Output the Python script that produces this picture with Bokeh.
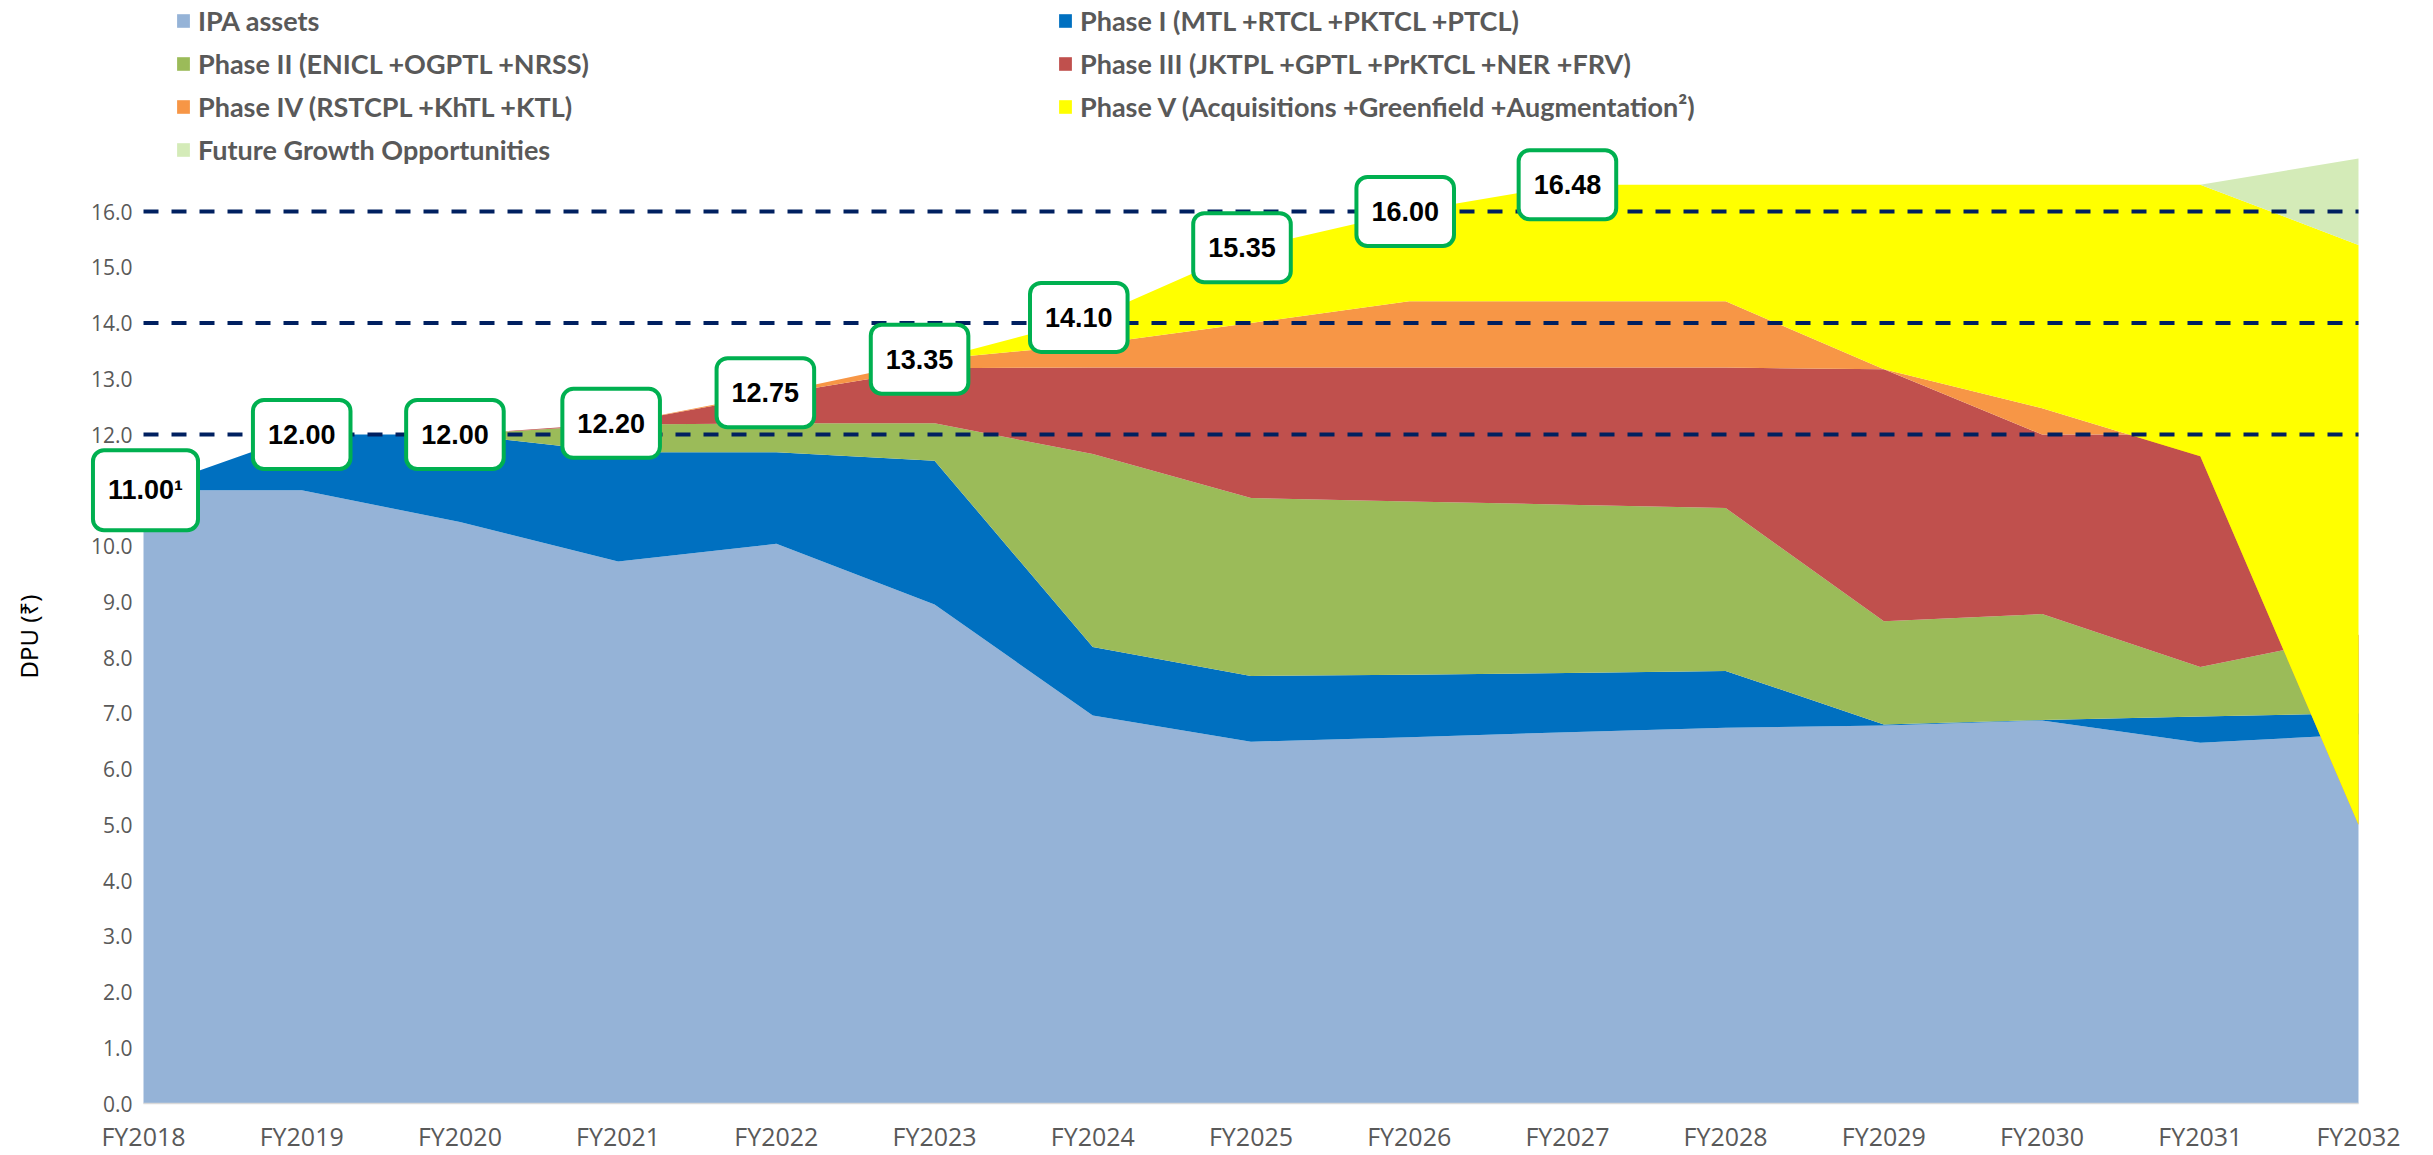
import math
import numpy as np
from bokeh.plotting import figure
from bokeh.models import Range1d, FixedTicker, NumeralTickFormatter, Legend, LegendItem, Label
from bokeh.embed import file_html
from bokeh.resources import INLINE

# ---------------- data ----------------
years = ["FY2018", "FY2019", "FY2020", "FY2021", "FY2022", "FY2023", "FY2024", "FY2025",
         "FY2026", "FY2027", "FY2028", "FY2029", "FY2030", "FY2031", "FY2032"]

ipa_assets = [11.00, 11.00, 10.43, 9.72, 10.04, 8.95, 6.96, 6.49, 6.57, 6.66, 6.74, 6.78, 6.87, 6.47, 6.62]
phase_1 = [0.00, 1.00, 1.57, 1.96, 1.64, 2.58, 1.23, 1.18, 1.12, 1.06, 1.02, 0.02, 0.01, 0.47, 0.38]
phase_2 = [0.00, 0.00, 0.00, 0.50, 0.52, 0.67, 3.46, 3.19, 3.11, 3.02, 2.92, 1.85, 1.90, 0.89, 1.40]
phase_3 = [0.00, 0.00, 0.00, 0.02, 0.52, 0.99, 1.55, 2.34, 2.40, 2.46, 2.52, 4.52, 3.22, 4.17, 0.00]
phase_4 = [0.00, 0.00, 0.00, 0.00, 0.03, 0.16, 0.42, 0.80, 1.19, 1.19, 1.19, 0.00, 0.47, -0.39, -3.40]
phase_5 = [0.00, 0.00, 0.00, 0.00, 0.00, 0.00, 0.48, 1.35, 1.61, 2.09, 2.09, 3.31, 4.01, 4.87, 10.40]
future_growth = [0.00, 0.00, 0.00, 0.00, 0.00, 0.00, 0.00, 0.00, 0.00, 0.00, 0.00, 0.00, 0.00, 0.00, 1.55]

dpu_label_texts = ["11.00\u00b9", "12.00", "12.00", "12.20", "12.75", "13.35", "14.10", "15.35", "16.00", "16.48"]
guide_levels = [12.0, 14.0, 16.0]
y_ticks = [0, 1, 2, 3, 4, 5, 6, 7, 8, 9, 10, 11, 12, 13, 14, 15, 16]

series_names = ["IPA assets",
                "Phase I (MTL +RTCL +PKTCL +PTCL)",
                "Phase II (ENICL +OGPTL +NRSS)",
                "Phase III (JKTPL +GPTL +PrKTCL +NER +FRV)",
                "Phase IV (RSTCPL +KhTL +KTL)",
                "Phase V (Acquisitions +Greenfield +Augmentation\u00b2)",
                "Future Growth Opportunities"]

# ---------------- layout / styles ----------------
colors = ["#95B3D7", "#0070C0", "#9BBB59", "#C0504D", "#F79646", "#FFFF00", "#D4EBB8"]
label_dx = [2, 0, -5, -7, -11, -15, -14, -9, -4, 0]
TICK_FONT = "Open Sans"

W, H = 2428, 1152
X_LEFT_PX, X_RIGHT_PX = 143, 2358      # pixel positions of first / last year
Y0_PX, Y16_PX = 1103, 211              # pixel positions of 0.0 and 16.0
n = len(years)
px_per_x = (X_RIGHT_PX - X_LEFT_PX) / (n - 1)
px_per_y = (Y0_PX - Y16_PX) / 16.0
x_start = -X_LEFT_PX / px_per_x
x_end = (n - 1) + (W - X_RIGHT_PX) / px_per_x
y_end = Y0_PX / px_per_y
y_start = -(H - Y0_PX) / px_per_y

x = np.arange(n)

p = figure(width=W, height=H, output_backend="svg", toolbar_location=None,
           x_range=Range1d(x_start, x_end), y_range=Range1d(y_start, y_end),
           min_border=0)
p.outline_line_color = None
p.xgrid.visible = False
p.ygrid.visible = False
p.background_fill_color = "white"
p.border_fill_color = "white"

values = [ipa_assets, phase_1, phase_2, phase_3, phase_4, phase_5, future_growth]
base = np.zeros(n)
renderers = []
for vals, col in zip(values, colors):
    top = base + np.array(vals)
    r = p.varea(x=x, y1=base, y2=top, fill_color=col, fill_alpha=1.0)
    renderers.append(r)
    base = top
total = base - np.array(future_growth)

for lvl in guide_levels:
    p.line(x=[x[0], x[-1]], y=[lvl, lvl], line_color="#002060", line_width=4, line_dash="15 13")

for i, t in enumerate(dpu_label_texts):
    p.add_layout(Label(x=int(x[i]), y=float(total[i]), text=t, text_align="center", text_baseline="middle",
                       text_font="Liberation Sans", text_font_style="bold", text_font_size="27px",
                       text_color="black", background_fill_color="white", background_fill_alpha=1.0,
                       border_line_color="#00B050", border_line_width=4, border_radius=11,
                       padding=dict(left=15, right=15, top=25, bottom=25), x_offset=label_dx[i]))

# axes (fixed inside the frame)
p.xaxis.fixed_location = 0
p.xaxis.bounds = (0, n - 1)
p.xaxis.ticker = FixedTicker(ticks=list(x))
p.xaxis.major_label_overrides = {int(i): years[i] for i in x}
p.xaxis.major_label_text_font = TICK_FONT
p.xaxis.major_label_text_font_size = "25px"
p.xaxis.major_label_text_color = "#595959"
p.xaxis.major_label_standoff = 15
p.xaxis.axis_line_color = "#D9D9D9"
p.xaxis.axis_line_width = 1.5
p.xaxis.major_tick_line_color = None
p.xaxis.minor_tick_line_color = None
p.xaxis.major_tick_out = 0
p.xaxis.major_tick_in = 0

p.yaxis.fixed_location = 0
p.yaxis.bounds = (0, 16)
p.yaxis.ticker = FixedTicker(ticks=y_ticks)
p.yaxis.formatter = NumeralTickFormatter(format="0.0")
p.yaxis.major_label_text_font = TICK_FONT
p.yaxis.major_label_text_font_size = "21px"
p.yaxis.major_label_text_color = "#595959"
p.yaxis.major_label_standoff = 11
p.yaxis.axis_line_color = None
p.yaxis.major_tick_line_color = None
p.yaxis.minor_tick_line_color = None
p.yaxis.major_tick_out = 0
p.yaxis.major_tick_in = 0

# y axis title
p.add_layout(Label(x=(28 - X_LEFT_PX) / px_per_x, y=(Y0_PX - 636) / px_per_y, text="DPU (\u20b9)",
                   angle=math.pi / 2, text_align="center", text_baseline="middle",
                   text_font="Noto Sans", text_font_size="24px", text_color="black"))

# legends (two columns, inside the frame at the top)
LEG_TOP = 4
ITEM_H, SPACING = 33, 10
col_a = [0, 2, 4, 6]
col_b = [1, 3, 5]
for idxs, xpos in ((col_a, 175), (col_b, 1057)):
    leg_h = len(idxs) * ITEM_H + (len(idxs) - 1) * SPACING
    leg = Legend(items=[LegendItem(label=series_names[k], renderers=[renderers[k]]) for k in idxs],
                 location=(xpos, H - LEG_TOP - leg_h), orientation="vertical",
                 glyph_width=16, glyph_height=17, label_standoff=7, label_height=ITEM_H,
                 spacing=SPACING, padding=0, margin=0,
                 border_line_color=None, background_fill_alpha=0.0,
                 label_text_font="Lato", label_text_font_style="bold", label_text_font_size="27px",
                 label_text_color="#595959")
    p.add_layout(leg, "center")

open("out.html", "w").write(file_html(p, INLINE))
